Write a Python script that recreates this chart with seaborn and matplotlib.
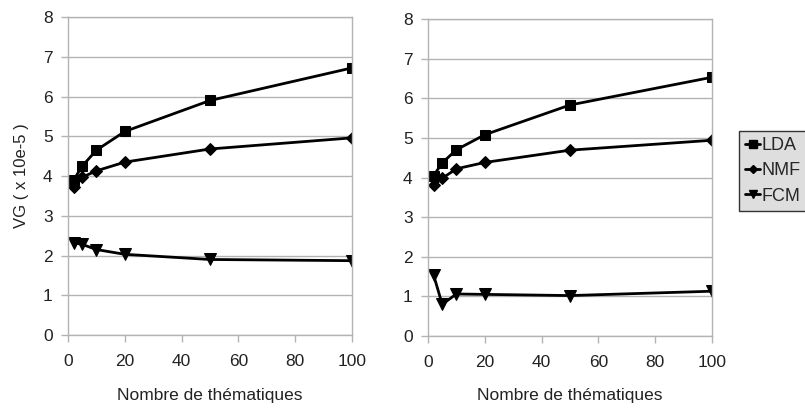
import matplotlib
matplotlib.use("Agg")
import matplotlib.pyplot as plt
import seaborn as sns
import pandas as pd
from matplotlib.lines import Line2D

topics = [2, 5, 10, 20, 50, 100]
series_names = ["LDA", "NMF", "FCM"]

left_lda = [3.90, 4.25, 4.65, 5.12, 5.90, 6.72]
left_nmf = [3.72, 3.97, 4.13, 4.35, 4.68, 4.96]
left_fcm = [2.32, 2.28, 2.15, 2.03, 1.90, 1.87]

right_lda = [4.05, 4.37, 4.70, 5.08, 5.83, 6.53]
right_nmf = [3.80, 3.98, 4.22, 4.38, 4.69, 4.94]
right_fcm = [1.53, 0.80, 1.06, 1.05, 1.02, 1.13]

x_label = "Nombre de thématiques"
y_label = "VG ( x 10e-5 )"

sns.set_theme(style="white")
plt.rcParams["font.family"] = ["Liberation Sans", "DejaVu Sans"]

markers = {"LDA": "s", "NMF": "D", "FCM": "v"}
msizes = {"LDA": 7, "NMF": 6, "FCM": 8}
grid_c = "#b3b3b3"
text_c = "#222222"

def make_df(lda, nmf, fcm):
    rows = []
    for name, vals in zip(series_names, [lda, nmf, fcm]):
        for t, v in zip(topics, vals):
            rows.append({"topics": t, "value": v, "series": name})
    return pd.DataFrame(rows)

fig = plt.figure(figsize=(8.05, 4.08), dpi=100)
ax1 = fig.add_axes([0.0845, 0.1789, 0.3528, 0.7794])
ax2 = fig.add_axes([0.5317, 0.1765, 0.3528, 0.7769])

for ax, data in [(ax1, (left_lda, left_nmf, left_fcm)), (ax2, (right_lda, right_nmf, right_fcm))]:
    df = make_df(*data)
    for name in series_names:
        sub = df[df["series"] == name]
        sns.lineplot(data=sub, x="topics", y="value", ax=ax, color="black",
                     linewidth=2, marker=markers[name], markersize=msizes[name],
                     markeredgecolor="black", markerfacecolor="black", legend=False)
    ax.set_xlim(0, 100)
    ax.set_ylim(0, 8)
    ax.set_xticks([0, 20, 40, 60, 80, 100])
    ax.set_yticks(range(0, 9))
    ax.yaxis.grid(True, color=grid_c, linewidth=1)
    ax.xaxis.grid(False)
    for s in ax.spines.values():
        s.set_color(grid_c)
        s.set_linewidth(1)
    ax.tick_params(axis="both", which="both", length=5, width=1, color=grid_c,
                   labelsize=12.5, labelcolor=text_c, direction="out")
    ax.tick_params(axis="x", pad=9)
    ax.tick_params(axis="y", pad=6)
    ax.tick_params(left=True, bottom=True)
    ax.set_xlabel(x_label, fontsize=12.5, color=text_c, labelpad=13)
    ax.set_ylabel("")

ax1.set_ylabel(y_label, fontsize=12, color=text_c, labelpad=10)

handles = [Line2D([0], [0], color="black", linewidth=2, marker=markers[n],
                  markersize=msizes[n] * 0.75, markerfacecolor="black") for n in series_names]
leg = fig.legend(handles, series_names, loc="upper left",
                 bbox_to_anchor=(739 / 805, 1 - 131 / 408), frameon=True,
                 fontsize=13, handlelength=0.8, handletextpad=0.1,
                 borderpad=0.35, labelspacing=0.45, borderaxespad=0, fancybox=False)
leg.get_frame().set_facecolor("#dedede")
leg.get_frame().set_edgecolor("#333333")
leg.get_frame().set_linewidth(1)
leg.get_frame().set_alpha(1)

fig.savefig("out.png", dpi=100)
